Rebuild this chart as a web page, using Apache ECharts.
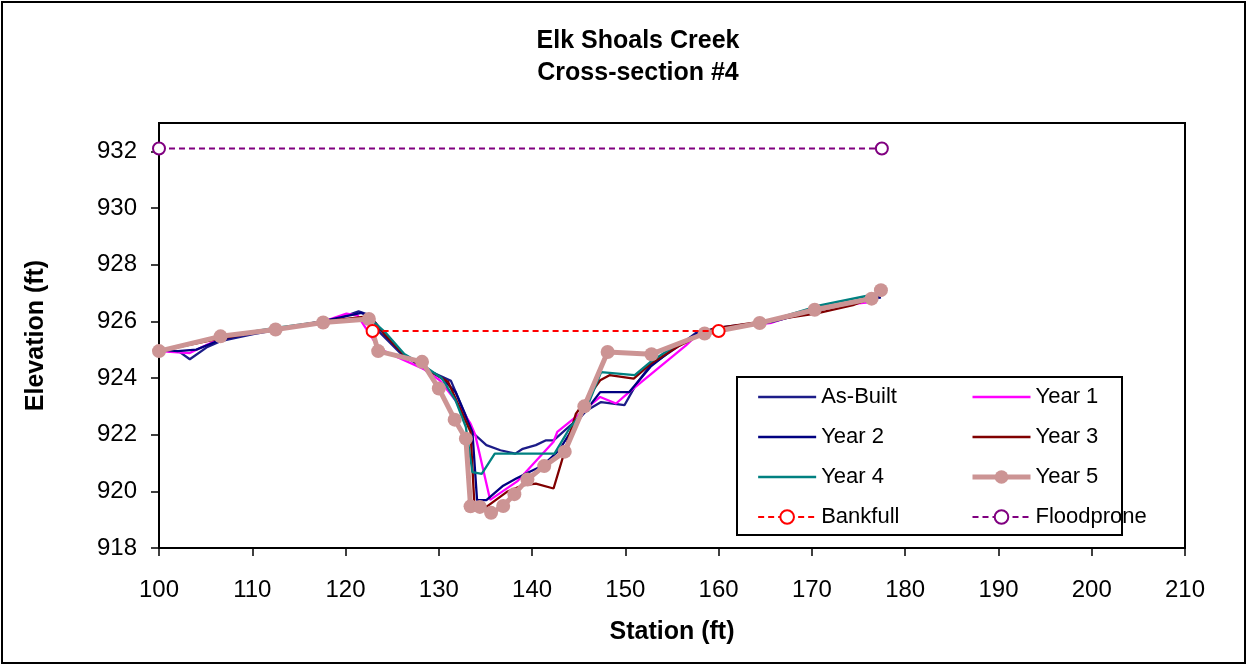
<!DOCTYPE html>
<html>
<head>
<meta charset="utf-8">
<script src="https://cdn.jsdelivr.net/npm/echarts@6/dist/echarts.min.js"></script>
<style>
html,body{margin:0;padding:0;background:#fff;}
#chart{width:1248px;height:666px;}
</style>
</head>
<body>
<div id="chart"></div>
<script>
// ---- Data (station ft, elevation ft) ----
var asBuilt = [[100,925.1],[101.2,924.92],[102.2,924.92],[103.3,924.66],[105.2,925.1],[106.6,925.3],[110.1,925.55],[115.2,925.85],[119.2,926.1],[121.4,926.35],[122.7,926.2],[123.7,925.6],[125.8,924.9],[128.3,924.35],[130.3,924.05],[131.3,923.9],[133.7,922.05],[135.1,921.63],[136.6,921.45],[138.2,921.33],[139.0,921.5],[140.4,921.63],[141.5,921.8],[142.3,921.8],[144.7,922.5],[145.9,922.86],[147.4,923.15],[149.9,923.04],[151.2,923.8],[152.7,924.45],[155.6,925.1],[157.6,925.6],[160.6,925.8],[165.7,926.0],[170.7,926.45],[177.4,926.9]];
var year1 = [[100,924.95],[103.3,924.88],[106.6,925.4],[112.1,925.7],[117.7,926.0],[120.1,926.27],[121.3,926.2],[123.6,925.04],[125.5,924.74],[128.3,924.33],[130.1,923.92],[131.8,923.2],[133.4,922.39],[133.9,922.0],[135.5,919.7],[138.4,920.35],[142.3,921.75],[142.7,922.1],[144.7,922.63],[147.3,923.33],[149.0,923.1],[150.4,923.5],[156.5,925.15],[158.0,925.62],[160.6,925.75],[165.7,925.95],[170.7,926.5],[176.4,926.68]];
var year2 = [[100,925.0],[102.0,924.95],[104.0,925.0],[106.6,925.35],[110.1,925.6],[117.2,925.98],[121.7,926.3],[122.7,926.15],[124.3,925.5],[126.3,924.8],[128.3,924.4],[130.3,924.0],[131.8,923.5],[133.6,922.1],[134.1,919.69],[135.1,919.69],[136.9,920.2],[138.3,920.45],[139.7,920.68],[141.1,920.9],[142.9,921.45],[144.7,922.4],[147.3,923.5],[150.4,923.5],[152.7,924.4],[155.6,925.15],[158.1,925.65],[160.6,925.75],[165.7,925.98],[170.7,926.4],[177.4,926.85]];
var year3 = [[100,924.95],[106.6,925.4],[112.1,925.7],[117.7,926.0],[122.6,926.18],[124.3,925.5],[126.3,924.8],[128.3,924.4],[131.0,923.86],[133.4,922.1],[133.8,919.6],[135.1,919.45],[137.3,919.98],[139.0,920.21],[140.4,920.27],[142.3,920.1],[144.7,922.74],[147.3,923.92],[148.3,924.1],[150.9,923.98],[152.7,924.5],[155.6,925.1],[159.4,925.74],[164.4,925.98],[170.4,926.27],[174.4,926.57],[176.7,926.86]];
var year4 = [[100,924.95],[106.6,925.45],[112.1,925.75],[117.7,926.0],[122.6,926.1],[124.3,925.6],[126.3,924.85],[128.3,924.45],[130.3,924.0],[131.8,923.2],[132.9,922.27],[133.6,920.68],[134.6,920.62],[136.0,921.33],[142.4,921.33],[144.1,922.27],[145.9,922.98],[147.4,924.21],[151.0,924.1],[152.7,924.57],[155.6,925.2],[158.6,925.6],[164.7,925.95],[170.7,926.55],[177.4,927.0]];
var year5 = [[100,924.95],[106.6,925.47],[112.5,925.71],[117.6,925.96],[122.5,926.08],[123.5,924.95],[128.2,924.57],[130.0,923.63],[131.7,922.53],[132.9,921.86],[133.4,919.47],[134.4,919.45],[135.6,919.24],[136.9,919.48],[138.1,919.9],[139.5,920.42],[141.3,920.89],[143.5,921.4],[145.6,923.0],[148.1,924.92],[152.8,924.84],[158.5,925.57],[164.4,925.94],[170.3,926.41],[176.4,926.8],[177.4,927.1]];
var bankfull = [[122.9,925.66],[160.0,925.66]];
var floodprone = [[100,932.1],[177.5,932.1]];

var titleLines = ['Elk Shoals Creek', 'Cross-section #4'];
var xName = 'Station (ft)';
var yName = 'Elevation (ft)';
var legendLeft = ['As-Built', 'Year 2', 'Year 4', 'Bankfull'];
var legendRight = ['Year 1', 'Year 3', 'Year 5', 'Floodprone'];
var lineOnly = ['As-Built', 'Year 1', 'Year 2', 'Year 3', 'Year 4'];

var FONT = 'Liberation Sans, Arial, sans-serif';
var chart = echarts.init(document.getElementById('chart'), null, {renderer: 'canvas'});

function thin(name, data, color) {
  return {
    name: name, type: 'line', data: data, symbol: 'none', showSymbol: false,
    lineStyle: {color: color, width: 2.3}, itemStyle: {color: color},
    z: 2
  };
}

function legendItems(names) {
  return names.map(function (n) {
    return lineOnly.indexOf(n) >= 0 ? {name: n, itemStyle: {opacity: 0}} : {name: n};
  });
}

var legendCommon = {
  orient: 'vertical', itemWidth: 58, itemHeight: 17, itemGap: 18,
  textStyle: {fontFamily: FONT, fontSize: 22, color: '#000'},
  lineStyle: {width: 'inherit', type: 'inherit'},
  selectedMode: false
};

chart.setOption({
  animation: false,
  backgroundColor: '#fff',
  title: {
    text: titleLines.join('\n'),
    left: 633, top: 20, textAlign: 'center',
    textStyle: {fontFamily: FONT, fontSize: 25, fontWeight: 'bold', color: '#000', lineHeight: 32}
  },
  grid: {
    left: 159, right: 63, top: 123, bottom: 118,
    show: true, borderColor: '#000', borderWidth: 2, backgroundColor: 'transparent'
  },
  legend: [
    Object.assign({}, legendCommon, {data: legendItems(legendLeft), left: 752, top: 381}),
    Object.assign({}, legendCommon, {data: legendItems(legendRight), left: 965, top: 381})
  ],
  xAxis: {
    type: 'value', min: 100, max: 210, interval: 10,
    name: xName, nameLocation: 'middle', nameGap: 72,
    nameTextStyle: {fontFamily: FONT, fontSize: 25, fontWeight: 'bold', color: '#000'},
    axisLine: {lineStyle: {color: '#000', width: 2}},
    axisTick: {show: true, length: 8, lineStyle: {color: '#000', width: 1.5}},
    axisLabel: {fontFamily: FONT, fontSize: 24, color: '#000', margin: 30},
    splitLine: {show: false}
  },
  yAxis: {
    type: 'value', min: 918, max: 933, interval: 2,
    name: yName, nameLocation: 'middle', nameGap: 110, nameRotate: 90,
    nameTextStyle: {fontFamily: FONT, fontSize: 25, fontWeight: 'bold', color: '#000'},
    axisLine: {lineStyle: {color: '#000', width: 2}},
    axisTick: {show: true, length: 8, lineStyle: {color: '#000', width: 1.5}},
    axisLabel: {fontFamily: FONT, fontSize: 24, color: '#000', margin: 22, showMaxLabel: false},
    splitLine: {show: false}
  },
  graphic: [
    {type: 'rect', shape: {x: 2, y: 2, width: 1243, height: 661}, style: {fill: 'none', stroke: '#000', lineWidth: 2}, z: 0, silent: true},
    {type: 'rect', shape: {x: 737, y: 377, width: 385, height: 158}, style: {fill: '#fff', stroke: '#000', lineWidth: 2}, z: 3, silent: true}
  ],
  series: [
    thin('As-Built', asBuilt, '#1c1c88'),
    thin('Year 1', year1, '#ff00ff'),
    thin('Year 2', year2, '#000080'),
    thin('Year 3', year3, '#800000'),
    thin('Year 4', year4, '#008080'),
    {
      name: 'Year 5', type: 'line', data: year5, symbol: 'circle', symbolSize: 14,
      lineStyle: {color: '#cc9494', width: 5}, itemStyle: {color: '#cc9494'}, z: 3
    },
    {
      name: 'Bankfull', type: 'line', data: bankfull, symbol: 'emptyCircle', symbolSize: 12,
      lineStyle: {color: '#ff0000', width: 2, type: [6, 4]},
      itemStyle: {color: '#ff0000', borderColor: '#ff0000', borderWidth: 1.5}, z: 4
    },
    {
      name: 'Floodprone', type: 'line', data: floodprone, symbol: 'emptyCircle', symbolSize: 12,
      lineStyle: {color: '#800080', width: 2, type: [6, 4]},
      itemStyle: {color: '#800080', borderColor: '#800080', borderWidth: 1.5}, z: 4
    }
  ]
});
</script>
</body>
</html>
